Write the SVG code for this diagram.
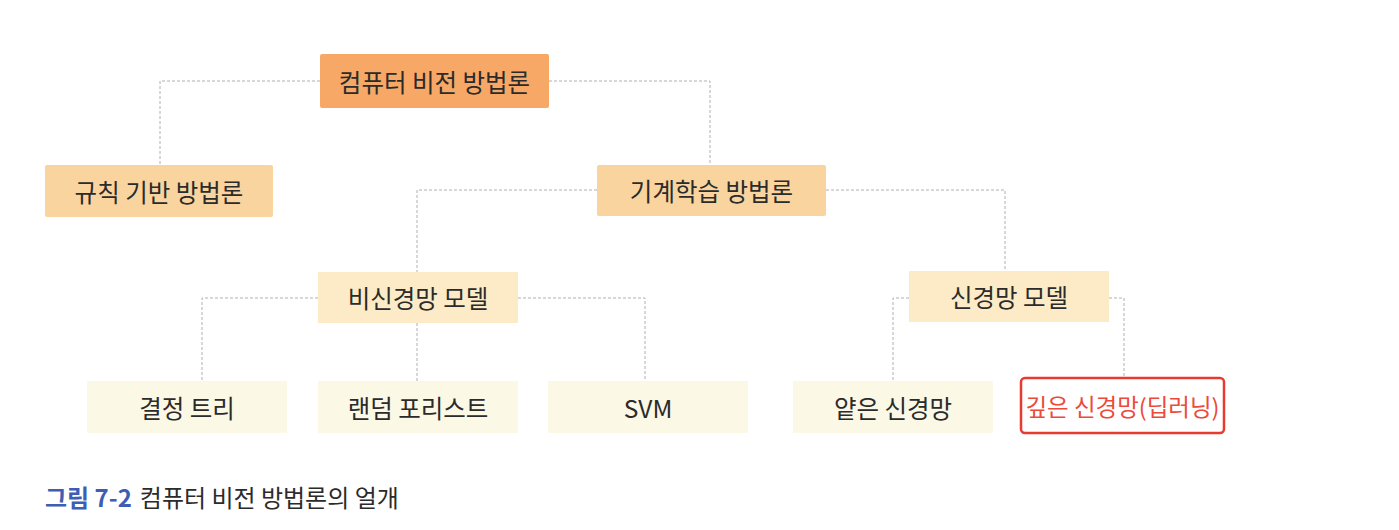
<svg xmlns="http://www.w3.org/2000/svg" width="1399" height="530" viewBox="0 0 1399 530">
<style>
.t{font-family:"Noto Sans CJK KR","Noto Sans",sans-serif;font-size:24.5px;fill:#2b2b2b;text-anchor:middle;dominant-baseline:central}
.c{fill:none;stroke:#b0b0b0;stroke-width:1;stroke-dasharray:3 2}
.l1{fill:#F8A866}
.l2{fill:#FAD49E}
.l3{fill:#FCEBC6}
.l4{fill:#FBF8E6}
.cap{font-family:"Noto Sans CJK KR","Noto Sans",sans-serif;font-size:24px}
</style>
<rect width="1399" height="530" fill="#ffffff"/>
<g id="connectors">
<path class="c" d="M320 81H160V165"/>
<path class="c" d="M549 81H710V165"/>
<path class="c" d="M597 190H417V272"/>
<path class="c" d="M826 190H1005V271"/>
<path class="c" d="M318 298H202V381"/>
<path class="c" d="M417 323V381"/>
<path class="c" d="M518 298H645V381"/>
<path class="c" d="M909 298H893V381"/>
<path class="c" d="M1109 298H1124V377"/>
</g>
<g id="root"><rect class="l1" x="320" y="54" width="229" height="54" rx="2"/><text class="t" x="434.5" y="81">컴퓨터 비전 방법론</text></g>
<g id="rule"><rect class="l2" x="45" y="165" width="228" height="52" rx="2"/><text class="t" x="159" y="191">규칙 기반 방법론</text></g>
<g id="ml"><rect class="l2" x="597" y="165" width="229" height="51" rx="2"/><text class="t" x="711.5" y="190.5">기계학습 방법론</text></g>
<g id="nonnn"><rect class="l3" x="318" y="272" width="200" height="51"/><text class="t" x="418" y="297.5">비신경망 모델</text></g>
<g id="nn"><rect class="l3" x="909" y="271" width="200" height="51"/><text class="t" x="1009" y="296.5">신경망 모델</text></g>
<g id="dt"><rect class="l4" x="87" y="381" width="200" height="52"/><text class="t" x="187" y="407">결정 트리</text></g>
<g id="rf"><rect class="l4" x="318" y="381" width="200" height="52"/><text class="t" x="418" y="407">랜덤 포리스트</text></g>
<g id="svm"><rect class="l4" x="548" y="381" width="200" height="52"/><text class="t" x="648" y="407">SVM</text></g>
<g id="shallow"><rect class="l4" x="793" y="381" width="200" height="52"/><text class="t" x="893" y="407">얕은 신경망</text></g>
<g id="deep"><rect x="1021" y="378" width="203" height="55" rx="4" fill="#ffffff" stroke="#E63B2E" stroke-width="2.5"/><text class="t" x="1122.5" y="405.5" style="fill:#EC4A3A;font-size:23.5px">깊은 신경망(딥러닝)</text></g>
<g id="caption"><text class="cap" x="45" y="507"><tspan fill="#3E5DB5" font-weight="bold">그림 7-2</tspan><tspan fill="#2b2b2b" dx="8">컴퓨터 비전 방법론의 얼개</tspan></text></g>
</svg>
